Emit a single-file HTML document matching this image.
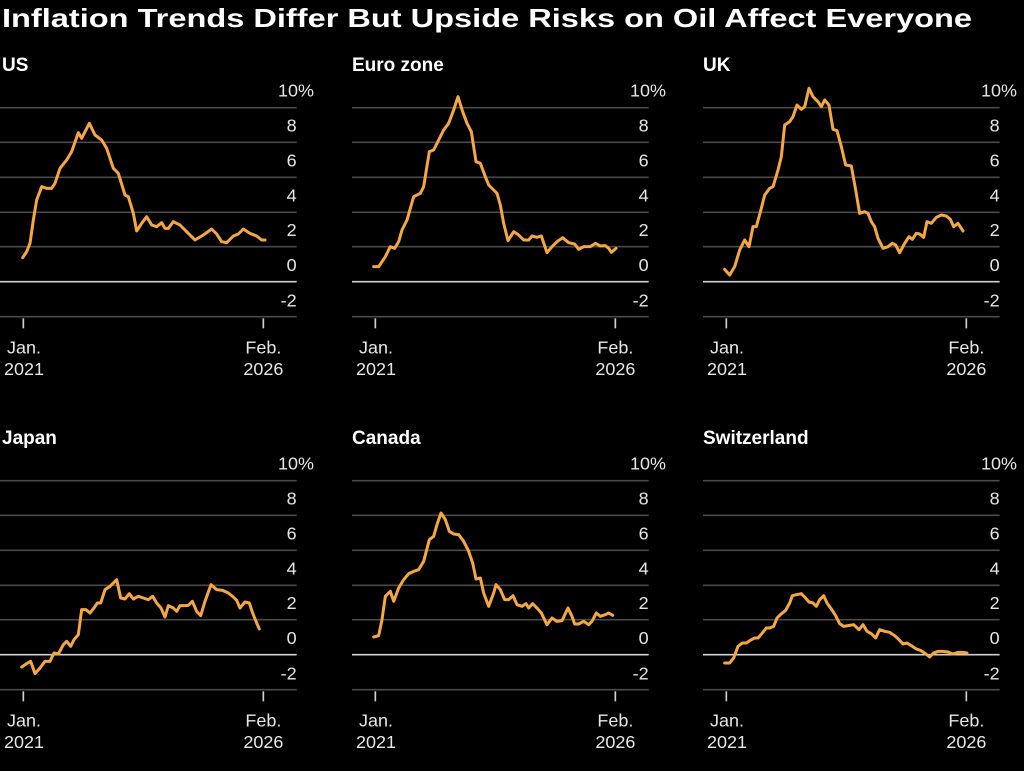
<!DOCTYPE html>
<html><head><meta charset="utf-8"><style>
html,body{margin:0;padding:0;background:#000;}
svg{display:block;font-family:"Liberation Sans",sans-serif;}
.g{stroke:#4a4a4a;stroke-width:5;}
.z{stroke:#d0d0d0;stroke-width:5;}
.t{stroke:#d0d0d0;stroke-width:5;}
.lb{fill:#e6e6e6;font-size:54px;text-anchor:end;}
.xl{fill:#e6e6e6;font-size:54px;text-anchor:middle;}
.ln{fill:none;stroke:#f5a742;stroke-width:9;stroke-linejoin:round;stroke-linecap:round;}
.ti{fill:#fff;font-size:19px;font-weight:bold;}
</style></head><body>
<svg width="1024" height="771" viewBox="0 0 1024 771" xmlns="http://www.w3.org/2000/svg">
<rect width="1024" height="771" fill="#000"/>
<text x="2" y="27" fill="#fff" font-size="26" font-weight="bold" textLength="970" lengthAdjust="spacingAndGlyphs">Inflation Trends Differ But Upside Risks on Oil Affect Everyone</text>
<defs>
<g id="ax">
<line class="g" x1="0" x2="890" y1="83" y2="83"/>
<line class="g" x1="0" x2="890" y1="187" y2="187"/>
<line class="g" x1="0" x2="890" y1="292" y2="292"/>
<line class="g" x1="0" x2="890" y1="397" y2="397"/>
<line class="g" x1="0" x2="890" y1="500" y2="500"/>
<line class="z" x1="0" x2="890" y1="605" y2="605"/>
<line class="g" x1="0" x2="890" y1="710" y2="710"/>
<line class="t" x1="70" x2="70" y1="715" y2="745"/>
<line class="t" x1="790" x2="790" y1="715" y2="745"/>
</g>
</defs>

<text class="ti" x="2" y="71">US</text>
<text class="ti" x="352" y="71">Euro zone</text>
<text class="ti" x="703" y="71">UK</text>
<text class="ti" x="2" y="444">Japan</text>
<text class="ti" x="352" y="444">Canada</text>
<text class="ti" x="703" y="444">Switzerland</text>

<g transform="translate(0,80) scale(0.33333)">
<use href="#ax"/>
<text class="lb" x="942" y="50">10%</text><text class="lb" x="890" y="155">8</text><text class="lb" x="890" y="260">6</text><text class="lb" x="890" y="365">4</text><text class="lb" x="890" y="468">2</text><text class="lb" x="890" y="573">0</text><text class="lb" x="890" y="680">-2</text>
<text class="xl" x="72" y="820">Jan.</text><text class="xl" x="72" y="885">2021</text><text class="xl" x="790" y="820">Feb.</text><text class="xl" x="790" y="885">2026</text>
<polyline class="ln" points="68,533 80,515 90,490 100,420 110,360 125,320 140,325 155,325 165,310 180,265 200,240 215,215 235,158 245,175 268,130 285,165 305,180 320,205 340,265 355,280 375,345 385,350 400,400 410,453 425,430 440,410 455,435 470,440 485,428 495,445 505,445 520,425 540,435 560,455 585,480 610,465 635,447 650,462 665,485 680,488 700,468 715,462 730,447 750,460 770,468 785,480 795,480"/>
</g>

<g transform="translate(352,80) scale(0.33333)">
<use href="#ax"/>
<text class="lb" x="942" y="50">10%</text><text class="lb" x="890" y="155">8</text><text class="lb" x="890" y="260">6</text><text class="lb" x="890" y="365">4</text><text class="lb" x="890" y="468">2</text><text class="lb" x="890" y="573">0</text><text class="lb" x="890" y="680">-2</text>
<text class="xl" x="72" y="820">Jan.</text><text class="xl" x="72" y="885">2021</text><text class="xl" x="790" y="820">Feb.</text><text class="xl" x="790" y="885">2026</text>
<polyline class="ln" points="65,560 80,560 100,530 115,500 128,505 140,485 150,450 165,420 185,350 205,340 215,320 232,215 245,210 260,180 275,150 290,130 305,90 318,50 332,95 345,130 358,155 372,245 385,250 400,290 410,315 425,330 435,340 445,375 455,430 468,482 485,455 500,465 515,480 530,480 540,468 555,472 568,468 585,518 600,500 615,485 632,473 650,488 668,492 680,508 695,500 715,500 730,490 745,498 760,497 770,505 778,517 792,505"/>
</g>

<g transform="translate(703,80) scale(0.33333)">
<use href="#ax"/>
<text class="lb" x="942" y="50">10%</text><text class="lb" x="890" y="155">8</text><text class="lb" x="890" y="260">6</text><text class="lb" x="890" y="365">4</text><text class="lb" x="890" y="468">2</text><text class="lb" x="890" y="573">0</text><text class="lb" x="890" y="680">-2</text>
<text class="xl" x="72" y="820">Jan.</text><text class="xl" x="72" y="885">2021</text><text class="xl" x="790" y="820">Feb.</text><text class="xl" x="790" y="885">2026</text>
<polyline class="ln" points="65,568 80,585 95,560 110,510 125,480 138,500 150,440 160,440 175,385 185,345 200,325 210,320 225,270 235,230 245,135 260,125 270,110 282,75 295,88 305,80 318,25 330,50 345,65 355,80 365,60 378,75 390,148 402,152 415,200 428,255 445,258 458,330 470,400 485,395 495,400 505,425 515,440 525,475 540,505 555,500 568,490 578,495 590,518 605,490 618,470 628,478 640,460 650,462 662,472 672,425 685,430 700,412 715,405 730,408 742,418 752,440 765,430 780,453"/>
</g>

<g transform="translate(0,453) scale(0.33333)">
<use href="#ax"/>
<text class="lb" x="942" y="50">10%</text><text class="lb" x="890" y="155">8</text><text class="lb" x="890" y="260">6</text><text class="lb" x="890" y="365">4</text><text class="lb" x="890" y="468">2</text><text class="lb" x="890" y="573">0</text><text class="lb" x="890" y="680">-2</text>
<text class="xl" x="72" y="820">Jan.</text><text class="xl" x="72" y="885">2021</text><text class="xl" x="790" y="820">Feb.</text><text class="xl" x="790" y="885">2026</text>
<polyline class="ln" points="65,642 80,632 92,625 105,662 120,645 135,625 150,625 162,600 175,603 190,575 200,565 212,580 222,560 235,545 245,470 258,470 270,480 282,465 292,450 302,450 315,410 330,400 350,380 362,435 375,438 388,422 400,438 415,430 430,435 445,440 458,430 470,450 483,465 495,492 505,458 520,465 530,475 540,458 555,458 565,457 577,445 590,475 602,488 615,445 633,395 650,410 668,412 685,420 700,432 710,442 720,465 735,447 748,450 758,480 770,510 778,528"/>
</g>

<g transform="translate(352,453) scale(0.33333)">
<use href="#ax"/>
<text class="lb" x="942" y="50">10%</text><text class="lb" x="890" y="155">8</text><text class="lb" x="890" y="260">6</text><text class="lb" x="890" y="365">4</text><text class="lb" x="890" y="468">2</text><text class="lb" x="890" y="573">0</text><text class="lb" x="890" y="680">-2</text>
<text class="xl" x="72" y="820">Jan.</text><text class="xl" x="72" y="885">2021</text><text class="xl" x="790" y="820">Feb.</text><text class="xl" x="790" y="885">2026</text>
<polyline class="ln" points="65,552 80,548 90,500 100,430 115,415 125,445 140,405 155,380 170,362 185,355 200,350 215,325 232,260 245,250 255,215 267,180 280,200 292,235 305,243 320,245 335,265 350,295 362,330 372,378 385,375 395,420 410,460 425,420 432,395 445,410 458,440 470,440 483,428 495,455 510,460 522,452 530,465 542,452 555,465 568,480 585,515 600,495 615,505 630,503 648,465 660,490 668,513 680,513 695,505 710,515 720,505 733,480 745,490 760,485 770,480 782,487"/>
</g>

<g transform="translate(703,453) scale(0.33333)">
<use href="#ax"/>
<text class="lb" x="942" y="50">10%</text><text class="lb" x="890" y="155">8</text><text class="lb" x="890" y="260">6</text><text class="lb" x="890" y="365">4</text><text class="lb" x="890" y="468">2</text><text class="lb" x="890" y="573">0</text><text class="lb" x="890" y="680">-2</text>
<text class="xl" x="72" y="820">Jan.</text><text class="xl" x="72" y="885">2021</text><text class="xl" x="790" y="820">Feb.</text><text class="xl" x="790" y="885">2026</text>
<polyline class="ln" points="65,630 80,630 92,615 105,580 118,570 130,570 145,560 155,555 165,555 178,540 190,525 200,525 212,520 222,495 232,485 248,472 260,450 268,428 280,425 295,422 305,432 318,447 330,450 340,460 350,440 362,428 372,450 385,468 398,488 410,512 422,520 435,518 452,515 468,530 480,515 492,535 505,542 518,555 530,530 545,535 560,538 575,548 588,560 600,573 612,570 625,578 640,588 652,592 665,600 680,612 692,600 705,595 720,595 735,597 750,603 765,598 780,598 792,600"/>
</g>
</svg>
</body></html>
